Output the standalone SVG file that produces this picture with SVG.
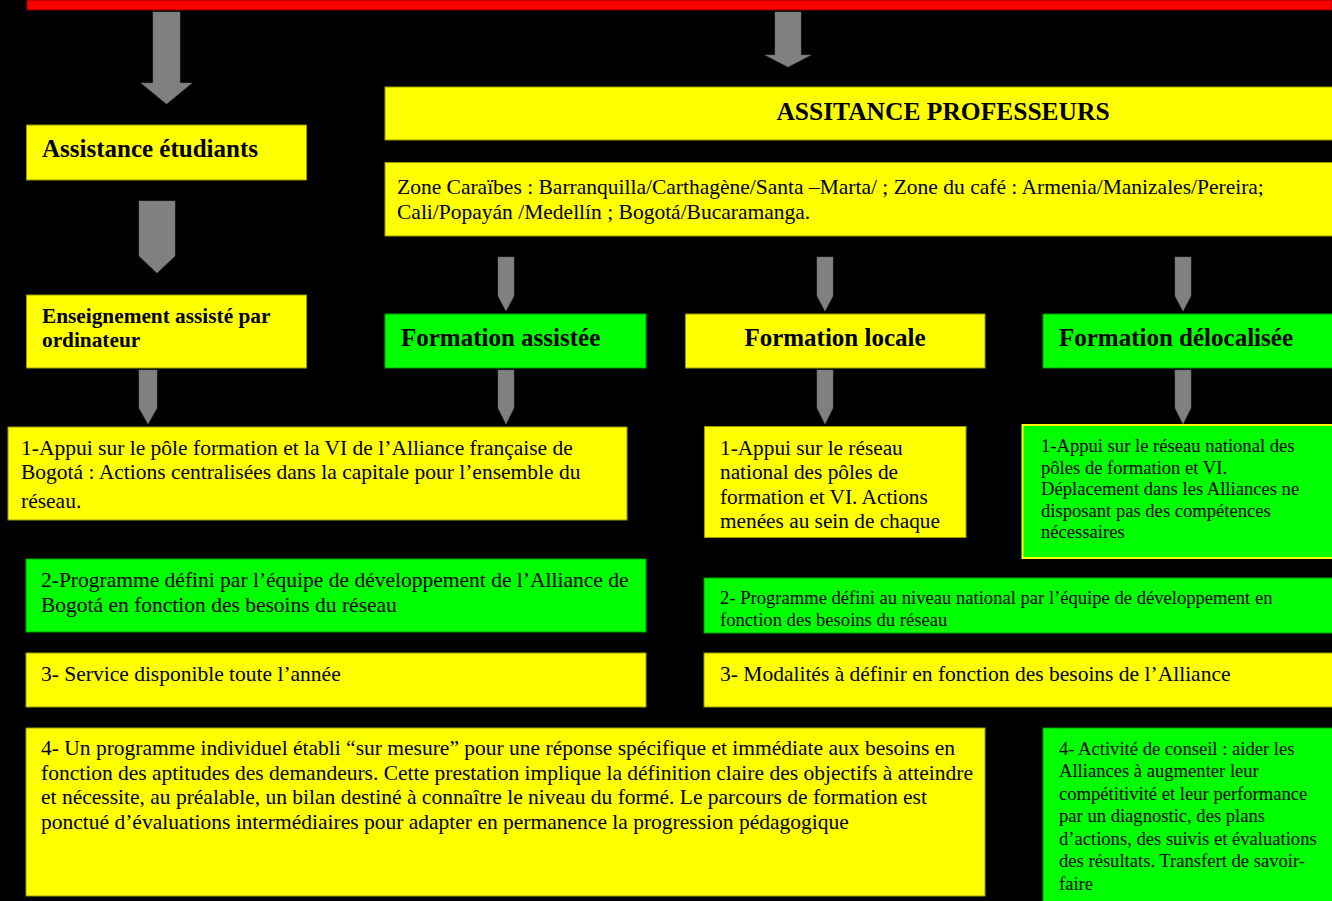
<svg xmlns="http://www.w3.org/2000/svg" width="1332" height="901" viewBox="0 0 1332 901" font-family="'Liberation Serif', 'DejaVu Serif', serif">
<style>
text{font-family:'Liberation Serif','DejaVu Serif',serif;fill:#000}
.y{fill:#ffff00;stroke:#9a9a00;stroke-width:1}
.g{fill:#00ff00;stroke:#00a000;stroke-width:1}
.gy{fill:#00ff00;stroke:#ffff00;stroke-width:2}
.ar{fill:#808080;stroke:#6a6a6a;stroke-width:0.5}
.b{font-weight:bold}
.h{font-size:25px;font-weight:bold}
.t{font-size:21.5px}
.s{font-size:18.6px}
</style>
<rect x="0" y="0" width="1332" height="901" fill="#000"/>
<rect x="27" y="0" width="1305" height="10" fill="#ff0000" stroke="#8a0000" stroke-width="1"/>
<g id="connectors">
<path class="ar" d="M153,12 H180 V83 H192 L166.5,104 L141,83 H153 Z"/>
<path class="ar" d="M775,12 H801 V55 H811 L788,67 L765,55 H775 Z"/>
<path class="ar" d="M139,201 H175 V256 L157,273 L139,256 Z"/>
<path class="ar" d="M498,257 H514 V296 L506,311 L498,296 Z"/>
<path class="ar" d="M817,257 H833 V296 L825,311 L817,296 Z"/>
<path class="ar" d="M1175,257 H1191 V296 L1183,311 L1175,296 Z"/>
<path class="ar" d="M139,370 H157 V408 L148,424 L139,408 Z"/>
<path class="ar" d="M498,370 H514 V408 L506,424 L498,408 Z"/>
<path class="ar" d="M817,370 H833 V408 L825,424 L817,408 Z"/>
<path class="ar" d="M1175,370 H1191 V408 L1183,424 L1175,408 Z"/>
</g>
<g id="assistance-professeurs">
<rect class="y" x="385" y="87" width="950" height="53"/>
<text x="943" y="120" font-size="25.5" class="b" text-anchor="middle">ASSITANCE PROFESSEURS</text>
</g>
<g id="assistance-etudiants">
<rect class="y" x="26.5" y="125" width="280" height="55"/>
<text x="42" y="157" class="h">Assistance étudiants</text>
</g>
<g id="zones">
<rect class="y" x="385" y="162.5" width="950" height="73.5"/>
<text x="397" y="194" class="t">Zone Caraïbes : Barranquilla/Carthagène/Santa –Marta/ ;  Zone du café : Armenia/Manizales/Pereira;</text>
<text x="397" y="219" class="t">Cali/Popayán /Medellín ; Bogotá/Bucaramanga.</text>
</g>
<g id="enseignement">
<rect class="y" x="26.5" y="295" width="280" height="73"/>
<text x="42" y="323" class="b" font-size="21.3">Enseignement assisté par</text>
<text x="42" y="347" class="b" font-size="21.3">ordinateur</text>
</g>
<g id="formation-assistee">
<rect class="g" x="385" y="314" width="261" height="54"/>
<text x="401" y="346" class="h">Formation assistée</text>
</g>
<g id="formation-locale">
<rect class="y" x="685.5" y="314" width="299.5" height="54"/>
<text x="835" y="346" class="h" text-anchor="middle">Formation locale</text>
</g>
<g id="formation-delocalisee">
<rect class="g" x="1043" y="314" width="292" height="54"/>
<text x="1059" y="346" class="h">Formation délocalisée</text>
</g>
<g id="centralise-1">
<rect class="y" x="8" y="427" width="619" height="93"/>
<text x="21" y="454.5" class="t">1-Appui sur le pôle formation et la VI de l’Alliance française de</text>
<text x="21" y="478.5" class="t">Bogotá : Actions centralisées dans la capitale pour l’ensemble du</text>
<text x="21" y="507.5" class="t">réseau.</text>
</g>
<g id="centralise-2">
<rect class="g" x="26" y="559" width="620" height="73"/>
<text x="41" y="586.5" class="t">2-Programme défini par l’équipe de développement de l’Alliance de</text>
<text x="41" y="611.5" class="t">Bogotá en fonction des besoins du réseau</text>
</g>
<g id="centralise-3">
<rect class="y" x="26" y="653" width="620" height="54"/>
<text x="41" y="681" class="t">3- Service disponible toute l’année</text>
</g>
<g id="centralise-4">
<rect class="y" x="26" y="728" width="959" height="168"/>
<text x="41" y="755" class="t">4- Un programme individuel établi “sur mesure” pour une réponse spécifique et immédiate aux besoins en</text>
<text x="41" y="779.5" class="t">fonction des aptitudes des demandeurs. Cette prestation implique la définition claire des objectifs à atteindre</text>
<text x="41" y="804" class="t">et nécessite, au préalable, un bilan destiné à connaître le niveau du formé. Le parcours de formation est</text>
<text x="41" y="828.5" class="t">ponctué d’évaluations intermédiaires pour adapter en permanence la progression pédagogique</text>
</g>
<g id="local-1">
<rect class="y" x="704.5" y="426.5" width="261.5" height="111"/>
<text x="720" y="454.5" font-size="21.3">1-Appui sur le réseau</text>
<text x="720" y="479" font-size="21.3">national des pôles de</text>
<text x="720" y="503.5" font-size="21.3">formation et VI. Actions</text>
<text x="720" y="528" font-size="21.3">menées au sein de chaque</text>
</g>
<g id="delocal-1">
<rect class="gy" x="1022.5" y="425" width="312" height="133"/>
<text x="1041" y="452" class="s">1-Appui sur le réseau national des</text>
<text x="1041" y="473.5" class="s">pôles de formation et VI.</text>
<text x="1041" y="495" class="s">Déplacement dans les Alliances ne</text>
<text x="1041" y="516.5" class="s">disposant pas des compétences</text>
<text x="1041" y="538" class="s">nécessaires</text>
</g>
<g id="national-2">
<rect class="g" x="704" y="578" width="631" height="55"/>
<text x="720" y="603.5" class="s">2- Programme défini au niveau national par l’équipe de développement en</text>
<text x="720" y="625.5" class="s">fonction des besoins du réseau</text>
</g>
<g id="national-3">
<rect class="y" x="704" y="653" width="631" height="54"/>
<text x="720" y="681" class="t">3- Modalités à définir en fonction des besoins de l’Alliance</text>
</g>
<g id="conseil-4">
<rect class="g" x="1043" y="728" width="292" height="178"/>
<text x="1059" y="754.5" class="s">4- Activité de conseil : aider les</text>
<text x="1059" y="777" class="s">Alliances à augmenter leur</text>
<text x="1059" y="799.5" class="s">compétitivité et leur performance</text>
<text x="1059" y="822" class="s">par un diagnostic, des plans</text>
<text x="1059" y="844.5" class="s">d’actions, des suivis et évaluations</text>
<text x="1059" y="867" class="s">des résultats. Transfert de savoir-</text>
<text x="1059" y="889.5" class="s">faire</text>
</g>
</svg>
